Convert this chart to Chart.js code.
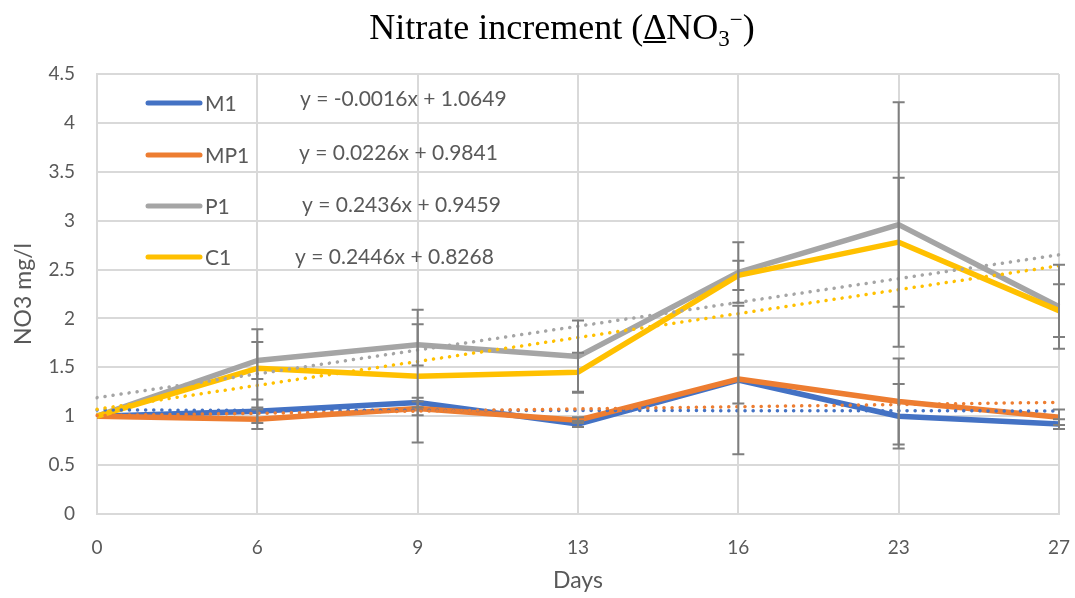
<!DOCTYPE html>
<html>
<head>
<meta charset="utf-8">
<script src="https://cdn.jsdelivr.net/npm/chart.js@4"></script>
<style>
  html, body { margin: 0; padding: 0; background: #fff; }
  #wrap { width: 1075px; height: 598px; }
</style>
</head>
<body>
<div id="wrap"><canvas id="nitrate"></canvas></div>
<script>
const days = ['0', '6', '9', '13', '16', '23', '27'];

const m1 = [1.00, 1.05, 1.14, 0.92, 1.37, 1.00, 0.92];
const mp1 = [1.00, 0.97, 1.08, 0.96, 1.38, 1.15, 0.99];
const p1 = [1.00, 1.57, 1.73, 1.61, 2.47, 2.96, 2.12];
const c1 = [1.00, 1.49, 1.41, 1.45, 2.44, 2.78, 2.08];

// error bar half-widths
const m1Err = [0, 0.12, 0.05, 0.03, 0.76, 0.33, 0.05];
const mp1Err = [0, 0.10, 0.07, 0.03, 0.25, 0.44, 0.08];
const p1Err = [0, 0.19, 0.21, 0.37, 0.31, 1.25, 0.43];
const c1Err = [0, 0.40, 0.68, 0.20, 0.15, 0.66, 0.27];

// linear trendlines, first and last value
const m1Trend = [1.063, null, null, null, null, null, 1.054];
const mp1Trend = [1.007, null, null, null, null, null, 1.142];
const p1Trend = [1.190, null, null, null, null, null, 2.651];
const c1Trend = [1.071, null, null, null, null, null, 2.539];

const seriesNames = ['M1', 'MP1', 'P1', 'C1'];
const equations = [
    'y = -0.0016x + 1.0649',
    'y = 0.0226x + 0.9841',
    'y = 0.2436x + 0.9459',
    'y = 0.2446x + 0.8268'
];
const colors = ['#4472C4', '#ED7D31', '#A5A5A5', '#FFC000'];

const FONT = 'Lato, "Open Sans", sans-serif';

function series(label, data, color, order) {
    return {
        label, data, order,
        borderColor: color,
        backgroundColor: color,
        borderWidth: 5.5,
        pointRadius: 0,
        tension: 0,
        borderJoinStyle: 'round'
    };
}

function trend(data, color, order) {
    return {
        label: '', data, order,
        borderColor: color,
        borderWidth: 3.5,
        borderDash: [0.1, 8],
        borderCapStyle: 'round',
        pointRadius: 0,
        spanGaps: true
    };
}

const errorBars = {
    id: 'errorBars',
    afterDatasetsDraw(chart) {
        const { ctx, scales: { x, y } } = chart;
        const sets = [[m1, m1Err], [mp1, mp1Err], [p1, p1Err], [c1, c1Err]];
        ctx.save();
        ctx.strokeStyle = '#7F7F7F';
        ctx.lineWidth = 2;
        sets.forEach(([vals, errs]) => {
            vals.forEach((v, i) => {
                if (!errs[i]) return;
                const px = x.getPixelForValue(i);
                const top = y.getPixelForValue(v + errs[i]);
                const bot = y.getPixelForValue(v - errs[i]);
                ctx.beginPath();
                ctx.moveTo(px, top); ctx.lineTo(px, bot);
                ctx.moveTo(px - 6, top); ctx.lineTo(px + 6, top);
                ctx.moveTo(px - 6, bot); ctx.lineTo(px + 6, bot);
                ctx.stroke();
            });
        });
        ctx.restore();
    }
};

const legendAndTitle = {
    id: 'legendAndTitle',
    afterDraw(chart) {
        const ctx = chart.ctx;
        ctx.save();
        // legend with equations
        const rows = [103, 155, 206, 257];
        const eqX = [300, 299, 302, 295];
        const eqY = [99, 153, 205, 257];
        seriesNames.forEach((name, i) => {
            ctx.strokeStyle = colors[i];
            ctx.lineWidth = 5;
            ctx.lineCap = 'round';
            ctx.beginPath();
            ctx.moveTo(148, rows[i]);
            ctx.lineTo(200, rows[i]);
            ctx.stroke();
            ctx.fillStyle = '#595959';
            ctx.textBaseline = 'middle';
            ctx.textAlign = 'left';
            ctx.font = '21px ' + FONT;
            ctx.fillText(name, 205, rows[i] + 1);
            ctx.fillText(equations[i], eqX[i], eqY[i]);
        });

        // title with subscript / superscript
        const big = '36px "Liberation Serif", "Times New Roman", serif';
        const small = '23px "Liberation Serif", "Times New Roman", serif';
        const parts = [
            { t: 'Nitrate increment (', f: big, dy: 0 },
            { t: '\u0394', f: big, dy: 0, u: true },
            { t: 'NO', f: big, dy: 0 },
            { t: '3', f: small, dy: 7 },
            { t: '\u2212', f: small, dy: -12 },
            { t: ')', f: big, dy: 0 }
        ];
        let total = 0;
        parts.forEach(p => { ctx.font = p.f; p.w = ctx.measureText(p.t).width; total += p.w; });
        let cx = 562 - total / 2;
        const base = 39;
        ctx.fillStyle = '#000';
        ctx.textBaseline = 'alphabetic';
        ctx.textAlign = 'left';
        parts.forEach(p => {
            ctx.font = p.f;
            ctx.fillText(p.t, cx, base + p.dy);
            if (p.u) {
                ctx.strokeStyle = '#000';
                ctx.lineWidth = 2;
                ctx.lineCap = 'butt';
                ctx.beginPath();
                ctx.moveTo(cx, base + 3);
                ctx.lineTo(cx + p.w, base + 3);
                ctx.stroke();
            }
            cx += p.w;
        });
        ctx.restore();
    }
};

const ctx = document.getElementById('nitrate').getContext('2d');
const chart = new Chart(ctx, {
    type: 'line',
    data: {
        labels: days,
        datasets: [
            series('M1', m1, colors[0], 7),
            series('MP1', mp1, colors[1], 6),
            series('P1', p1, colors[2], 5),
            series('C1', c1, colors[3], 4),
            trend(m1Trend, colors[0], 3),
            trend(mp1Trend, colors[1], 2),
            trend(p1Trend, colors[2], 1),
            trend(c1Trend, colors[3], 0)
        ]
    },
    options: {
        responsive: true,
        maintainAspectRatio: false,
        animation: false,
        layout: { padding: { top: 74, right: 16, left: 0, bottom: 0 } },
        plugins: {
            legend: { display: false },
            title: { display: false },
            tooltip: { enabled: false }
        },
        scales: {
            x: {
                offset: false,
                grid: { color: '#D9D9D9', lineWidth: 2, drawTicks: false },
                border: { color: '#D9D9D9', width: 2 },
                ticks: { color: '#595959', font: { family: FONT, size: 19 }, padding: 22, maxRotation: 0 },
                title: { display: true, text: 'Days', color: '#595959', font: { family: FONT, size: 23 }, padding: { top: 4 } },
                afterFit(scale) {
                    scale.height = 84;
                    scale.paddingLeft = 0;
                    scale.paddingRight = 0;
                }
            },
            y: {
                min: 0,
                max: 4.5,
                ticks: {
                    stepSize: 0.5,
                    color: '#595959',
                    font: { family: FONT, size: 19 },
                    padding: 22,
                    callback: v => String(v)
                },
                grid: { color: '#D9D9D9', lineWidth: 2, drawTicks: false },
                border: { color: '#D9D9D9', width: 2 },
                title: { display: true, text: 'NO3 mg/l', color: '#595959', font: { family: FONT, size: 23 }, padding: { bottom: 0, top: 10 } },
                afterFit(scale) { scale.width = 97; }
            }
        }
    },
    plugins: [errorBars, legendAndTitle]
});
</script>
</body>
</html>
